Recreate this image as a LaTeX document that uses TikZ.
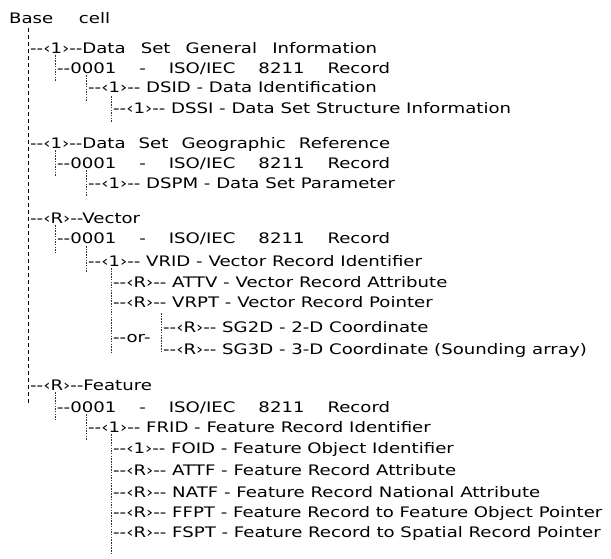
\documentclass[tikz,border=0pt]{standalone}
\usepackage{fontspec}
\setmainfont{DejaVu Sans}[Ligatures=TeXOff, FakeStretch=1.25]
\usepackage{tikz}
\usetikzlibrary{calc}

\begin{document}
\begin{tikzpicture}[
				x=1pt, y=1pt,
				font=\fontsize{14.5}{16}\selectfont,
				row/.style = {anchor=base west, inner sep=0pt},
				trunk/.style={line width=0.8pt, dash pattern=on 4pt off 3pt},
				branch/.style={line width=0.7pt, black!80, dash pattern=on 1.5pt off 1.2pt}
				]
				\useasboundingbox[fill=white] (0,0) rectangle (611,-558);
				
				\node[row] (base) at (9,-23) {\makebox[101pt][s]{Base cell}};
				
				\node[row] (dsgi) at (30,-53) {\makebox[347pt][s]{--‹1›--Data Set General Information}};
				\node[row] (isoA) at (57,-73) {\makebox[333pt][s]{--0001 - ISO/IEC 8211 Record}};
				\node[row] (dsid) at (88,-92) {--‹1›-- DSID - Data Identification};
				\node[row] (dssi) at (113,-113) {--‹1›-- DSSI - Data Set Structure Information};
				
				\node[row] (dsgr) at (30,-148) {\makebox[360pt][s]{--‹1›--Data Set Geographic Reference}};
				\node[row] (isoB) at (57,-168) {\makebox[333pt][s]{--0001 - ISO/IEC 8211 Record}};
				\node[row] (dspm) at (88,-188) {--‹1›-- DSPM - Data Set Parameter};
				
				\node[row] (vec) at (30,-223) {--‹R›--Vector};
				\node[row] (isoC) at (57,-243) {\makebox[333pt][s]{--0001 - ISO/IEC 8211 Record}};
				\node[row] (vrid) at (88,-266) {--‹1›-- VRID - Vector Record Identifier};
				\node[row] (attv) at (113,-287) {--‹R›-- ATTV - Vector Record Attribute};
				\node[row] (vrpt) at (113,-307) {--‹R›-- VRPT - Vector Record Pointer};
				\node[row] (orsel) at (113,-342) {--or-};
				\node[row] (sg2d) at (163,-332) {--‹R›-- SG2D - 2-D Coordinate};
				\node[row] (sg3d) at (163,-354) {--‹R›-- SG3D - 3-D Coordinate (Sounding array)};
				
				\node[row] (feat) at (30,-390) {--‹R›--Feature};
				\node[row] (isoD) at (57,-412) {\makebox[333pt][s]{--0001 - ISO/IEC 8211 Record}};
				\node[row] (frid) at (88,-432) {--‹1›-- FRID - Feature Record Identifier};
				\node[row] (foid) at (113,-453) {--‹1›-- FOID - Feature Object Identifier};
				\node[row] (attf) at (113,-475) {--‹R›-- ATTF - Feature Record Attribute};
				\node[row] (natf) at (113,-497) {--‹R›-- NATF - Feature Record National Attribute};
				\node[row] (ffpt) at (113,-517) {--‹R›-- FFPT - Feature Record to Feature Object Pointer};
				\node[row] (fspt) at (113,-537) {--‹R›-- FSPT - Feature Record to Spatial Record Pointer};
				
				% main trunk
				\draw[trunk] ($(base.base -| dsgi.west)+(-2,-5)$) -- ($(feat.base west)+(-2,-15)$);
				
				% general information
				\draw[branch] ($(dsgi.base -| isoA.west)+(-1.5,-2)$) -- ($(isoA.base west)+(-1.5,-9)$);
				\draw[branch] ($(isoA.base -| dsid.west)+(-1.5,-2)$) -- ($(dsid.base west)+(-1.5,-10)$);
				\draw[branch] ($(dsid.base -| dssi.west)+(-1.5,-4)$) -- ($(dssi.base west)+(-1.5,-9)$);
				
				% geographic reference
				\draw[branch] ($(dsgr.base -| isoB.west)+(-1.5,-2)$) -- ($(isoB.base west)+(-1.5,-9)$);
				\draw[branch] ($(isoB.base -| dspm.west)+(-1.5,-2)$) -- ($(dspm.base west)+(-1.5,-9)$);
				
				% vector
				\draw[branch] ($(vec.base -| isoC.west)+(-1.5,-2)$) -- ($(isoC.base west)+(-1.5,-10)$);
				\draw[branch] ($(isoC.base -| vrid.west)+(-1.5,-3)$) -- ($(vrid.base west)+(-1.5,-7)$);
				\draw[branch] ($(vrid.base -| attv.west)+(-1.5,-2)$) -- ($(orsel.base west)+(-1.5,-11)$);
				\draw[branch] ($(sg2d.base west)+(-1.5,19)$) -- ($(sg3d.base west)+(-1.5,2)$);
				
				% feature
				\draw[branch] ($(feat.base -| isoD.west)+(-1.5,-2)$) -- ($(isoD.base west)+(-1.5,-8)$);
				\draw[branch] ($(isoD.base -| frid.west)+(-1.5,-2)$) -- ($(frid.base west)+(-1.5,-8)$);
				\draw[branch] ($(frid.base -| foid.west)+(-1.5,-2)$) -- ($(fspt.base west)+(-1.5,-18)$);
			\end{tikzpicture}
\end{document}
